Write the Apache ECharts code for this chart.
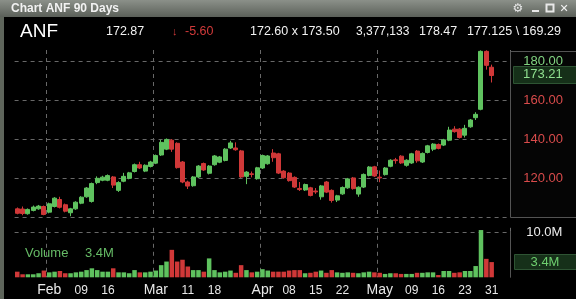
<!DOCTYPE html>
<html><head><meta charset="utf-8">
<script src="https://cdn.jsdelivr.net/npm/echarts@6/dist/echarts.min.js"></script>
<style>html,body{margin:0;padding:0;background:#000;overflow:hidden}#c{width:576px;height:299px}</style>
</head><body><div id="c"></div>
<script>
// ---- data ----
const dates = [
 '01-24','01-25','01-26','01-29','01-30','01-31',
 '02-01','02-02','02-05','02-06','02-07','02-08','02-09','02-12','02-13','02-14','02-15','02-16','02-20','02-21','02-22','02-23','02-26','02-27','02-28','02-29',
 '03-01','03-04','03-05','03-06','03-07','03-08','03-11','03-12','03-13','03-14','03-15','03-18','03-19','03-20','03-21','03-22','03-25','03-26','03-27','03-28',
 '04-01','04-02','04-03','04-04','04-05','04-08','04-09','04-10','04-11','04-12','04-15','04-16','04-17','04-18','04-19','04-22','04-23','04-24','04-25','04-26','04-29','04-30',
 '05-01','05-02','05-03','05-06','05-07','05-08','05-09','05-10','05-13','05-14','05-15','05-16','05-17','05-20','05-21','05-22','05-23','05-24','05-28','05-29','05-30','05-31'
];
const opens = [104.3,104.2,101.8,103.5,104.3,105.5,102.6,105.5,109.1,106.4,102.3,104.3,107.2,110.5,108.1,117.8,119.0,119.0,120.7,113.8,
 118.5,120.0,123.5,127.0,123.7,126.1,127.8,132.0,135.0,139.6,138.0,128.4,118.1,116.2,120.7,127.6,122.6,127.0,128.3,129.2,
 135.6,135.6,134.1,121.0,122.3,119.8,125.3,127.5,133.0,132.6,123.7,122.7,120.5,114.8,114.0,115.1,113.5,110.5,118.1,113.8,
 108.8,112.0,115.1,120.2,111.9,115.5,121.5,125.9,120.6,121.9,126.2,129.5,131.4,126.7,127.9,134.0,128.4,133.3,135.0,137.4,
 137.1,139.6,145.3,145.3,142.2,146.5,151.2,155.5,185.3,177.125];
const closes = [102.0,101.9,104.0,105.2,105.7,101.4,106.9,109.8,105.1,103.1,104.3,107.7,110.3,115.0,117.3,120.0,120.6,121.4,116.5,117.8,
 121.0,122.8,127.0,125.3,126.7,128.4,131.7,138.5,140.0,135.0,125.5,118.1,116.0,120.7,126.3,124.3,126.3,131.5,131.0,135.0,
 138.2,134.7,120.7,123.2,122.0,125.4,131.7,131.5,130.6,122.7,120.3,118.8,115.5,114.2,116.8,111.2,113.0,116.1,112.9,108.6,
 111.0,115.3,119.7,114.7,115.4,122.0,125.8,121.2,120.2,125.3,129.3,129.1,127.9,129.3,132.6,129.0,132.8,136.7,137.6,135.4,
 139.8,144.8,144.0,141.0,145.7,150.0,152.9,185.3,178.1,172.87];
const lows = [101.5,101.0,101.3,103.0,103.8,101.0,102.0,105.0,104.5,102.5,100.5,103.8,106.7,110.0,107.5,117.0,118.5,118.5,115.0,113.0,
 118.0,119.5,123.0,124.8,123.2,125.6,127.3,131.5,134.5,133.6,125.0,117.5,114.5,115.7,120.2,123.8,122.0,126.5,127.8,128.7,
 135.1,134.2,120.2,117.0,120.5,119.3,124.8,127.0,128.5,122.2,119.8,118.3,115.0,113.5,113.5,110.7,112.0,109.0,112.4,107.5,
 107.8,111.5,114.6,114.2,110.5,115.0,121.0,120.7,118.0,121.4,125.7,127.5,127.4,126.0,127.4,128.0,127.9,132.8,134.0,134.9,
 136.6,139.1,143.5,140.5,141.0,146.0,150.0,155.0,175.9,169.29];
const highs = [105.0,105.5,104.5,106.0,106.3,106.0,107.5,110.3,110.5,107.0,104.8,108.2,110.8,115.5,117.8,121.0,121.3,122.0,121.2,118.5,
 122.8,123.3,127.6,128.5,127.2,129.0,132.2,139.8,140.5,140.2,138.5,128.9,118.8,121.2,126.8,128.1,126.8,132.0,131.5,135.5,
 139.3,138.5,134.6,123.7,123.5,125.9,132.2,132.0,135.0,133.1,124.2,123.2,121.0,118.1,117.3,115.6,115.0,116.6,118.6,114.3,
 111.5,115.8,120.2,120.7,115.9,122.5,126.3,126.4,124.0,125.8,129.8,130.5,131.9,129.8,133.1,134.5,133.3,137.2,138.1,137.9,
 140.3,146.5,146.8,145.8,147.5,150.5,154.0,185.8,185.8,178.47];
const volumesM = [1.25,0.67,0.67,0.67,0.9,1.5,1.1,1.25,1.4,0.9,0.9,1.1,1.25,1.6,2.0,1.6,1.25,1.25,2.0,1.1,
 1.1,0.9,1.6,1.1,1.1,1.25,1.5,2.7,3.5,6.1,3.5,3.9,2.4,1.6,1.6,1.25,4.2,1.6,1.1,1.25,
 1.5,1.0,2.7,1.6,1.1,1.25,1.8,1.5,1.25,1.25,1.25,1.5,1.6,1.6,0.9,1.0,1.25,1.5,1.0,1.6,
 1.1,1.0,1.1,1.0,0.9,1.1,1.25,1.1,1.0,0.75,0.9,0.9,0.75,0.75,0.75,1.0,1.0,1.1,1.1,0.5,
 1.4,1.4,1.0,1.1,1.4,1.4,2.5,10.5,4.1,3.38];
const padCats = [' ','  ','   '];
const monthStarts = ['02-01','03-01','04-01','05-01'];
const tickLabels = {'02-01':'Feb','02-09':'09','02-16':'16','03-01':'Mar','03-11':'11','03-18':'18',
 '04-01':'Apr','04-08':'08','04-15':'15','04-22':'22','05-01':'May','05-09':'09','05-16':'16','05-23':'23','05-31':'31'};
const priceMin = 100, priceMax = 186, priceStep = 20;
const volMax = 11, volStep = 10;
const lastPrice = 173.21, lastVolM = 3.38;
const header = {sym:'ANF', last:'172.87', chg:'-5.60', bidask:'172.60 x 173.50', vol:'3,377,133', high:'178.47', openLow:'177.125 \\ 169.29'};

// ---- chart ----
const GREEN = '#5fc25f', RED = '#d03838';
const FONT = '"Liberation Sans", Arial, sans-serif';
const cats = dates.concat(padCats);
const ohlc = dates.map((d,i)=>[opens[i],closes[i],lows[i],highs[i]]);
const vols = dates.map((d,i)=>({value: volumesM[i], itemStyle:{color: closes[i] >= opens[i] ? GREEN : RED}}));
const monthSplit = (idx)=> monthStarts.indexOf(cats[idx]) >= 0;

const chart = echarts.init(document.getElementById('c'), null, {renderer:'canvas'});
const L = 14.6, W = 495.7;
chart.setOption({
  backgroundColor:'#000',
  animation:false,
  grid:[{left:L, top:50, width:W, height:167.2},{left:L, top:227.8, width:W, height:49.5}],
  xAxis:[
    {type:'category', gridIndex:0, data:cats, boundaryGap:true, axisLine:{show:false}, axisTick:{show:false}, axisLabel:{show:false},
     splitLine:{show:true, interval:monthSplit, lineStyle:{color:'#686868', type:[4,4]}}},
    {type:'category', gridIndex:1, data:cats, boundaryGap:true, axisLine:{show:false}, axisTick:{show:false},
     splitLine:{show:true, interval:monthSplit, lineStyle:{color:'#686868', type:[4,4]}},
     axisLabel:{show:true, margin:5, interval:(idx)=> tickLabels[cats[idx]] !== undefined,
       formatter:(v)=>{const t = tickLabels[v]; if(!t) return ''; return /^[A-Z]/.test(t) ? '{m|'+t+'}' : '{d|'+t+'}';},
       rich:{m:{fontSize:14, color:'#e8e8e8', fontFamily:FONT, lineHeight:16}, d:{fontSize:12, color:'#e8e8e8', fontFamily:FONT, lineHeight:16}}}}
  ],
  yAxis:[
    {type:'value', gridIndex:0, position:'right', min:priceMin, max:priceMax, interval:priceStep,
     axisLine:{show:false}, axisTick:{show:false},
     splitLine:{show:true, lineStyle:{color:['#686868','#686868','#686868','#686868','#686868','rgba(0,0,0,0)'], type:[4,4]}},
     axisLabel:{margin:13, fontSize:13, fontFamily:FONT,
       color:(v)=> Number(v) === 180 ? '#7fd47f' : '#d94848',
       formatter:(v)=> (v === priceMin || v === priceMax || v % priceStep !== 0) ? '' : v.toFixed(2)}},
    {type:'value', gridIndex:1, position:'right', min:0, max:volMax, interval:volStep,
     axisLine:{show:false}, axisTick:{show:false},
     splitLine:{show:true, lineStyle:{color:['rgba(0,0,0,0)','#686868','rgba(0,0,0,0)'], type:[4,4]}},
     axisLabel:{margin:16, fontSize:13, fontFamily:FONT, color:'#ececec', formatter:(v)=> v === volStep ? v.toFixed(1)+'M' : ''}}
  ],
  series:[
    {type:'candlestick', xAxisIndex:0, yAxisIndex:0, data:ohlc, barWidth:4.5,
     itemStyle:{color:GREEN, color0:RED, borderColor:GREEN, borderColor0:RED, borderWidth:1}},
    {type:'bar', xAxisIndex:1, yAxisIndex:1, data:vols, barWidth:4.5}
  ]
});

const yPrice = chart.convertToPixel({yAxisIndex:0}, lastPrice);
const yVol = chart.convertToPixel({yAxisIndex:1}, lastVolM);
const txt = (x,y,s,fill,size)=>({type:'text', x, y, style:{text:s, fill, font:(size)+'px '+FONT, textVerticalAlign:'middle'}, z:10});
chart.setOption({graphic:[
  {type:'rect', shape:{x:0,y:0,width:576,height:17}, style:{fill:new echarts.graphic.LinearGradient(0,0,0,1,[{offset:0,color:'#8b9089'},{offset:1,color:'#5b6059'}])}, z:5},
  {type:'text', x:11, y:9, style:{text:'Chart ANF 90 Days', fill:'#f2f2f2', font:'bold 12px '+FONT, textVerticalAlign:'middle'}, z:10},
  {type:'text', x:518, y:9, style:{text:'⚙', fill:'#e8e8e8', font:'12px "DejaVu Sans"', textAlign:'center', textVerticalAlign:'middle'}, z:10},
  {type:'rect', shape:{x:532,y:10,width:7,height:2}, style:{fill:'#e8e8e8'}, z:10},
  {type:'rect', shape:{x:546.5,y:4.5,width:7,height:7}, style:{fill:'none', stroke:'#e8e8e8', lineWidth:2}, z:10},
  {type:'text', x:564, y:9, style:{text:'✕', fill:'#f2f2f2', font:'bold 11px "DejaVu Sans"', textAlign:'center', textVerticalAlign:'middle'}, z:10},
  {type:'rect', shape:{x:0,y:17,width:4,height:282}, style:{fill:'#5e655b'}, z:5},
  txt(20,32,header.sym,'#ffffff',19),
  txt(106,32,header.last,'#f2f2f2',12.5),
  txt(172,32,'↓','#d23a3a',11),
  txt(185,32,header.chg,'#d23a3a',12.5),
  txt(250,32,header.bidask,'#f2f2f2',12.5),
  txt(356,32,header.vol,'#f2f2f2',12),
  txt(419,32,header.high,'#f2f2f2',12.5),
  txt(467,32,header.openLow,'#f2f2f2',12.5),
  {type:'rect', shape:{x:510.5,y:51.5,width:70,height:166}, style:{fill:'rgba(255,255,255,0.02)', stroke:'#545454', lineWidth:1}, z:1},
  {type:'line', shape:{x1:510.5,y1:232,x2:510.5,y2:277.5}, style:{stroke:'#545454', lineWidth:1}, z:1},
  {type:'rect', shape:{x:513.5,y:Math.round(yPrice)-8.5,width:63,height:17}, style:{fill:'#163019', stroke:'#2e5433', lineWidth:1}, z:9},
  txt(523,yPrice,lastPrice.toFixed(2),'#8fe08f',13),
  {type:'rect', shape:{x:514.5,y:Math.round(yVol)-7.5,width:62,height:15}, style:{fill:'#163019', stroke:'#2e5433', lineWidth:1}, z:9},
  {type:'text', x:545, y:yVol, style:{text:lastVolM.toFixed(1)+'M', fill:'#6fcf6f', font:'13px '+FONT, textAlign:'center', textVerticalAlign:'middle'}, z:10},
  txt(25,253,'Volume','#66bb66',13),
  txt(85,253,lastVolM.toFixed(1)+'M','#66bb66',13)
]});
</script></body></html>
